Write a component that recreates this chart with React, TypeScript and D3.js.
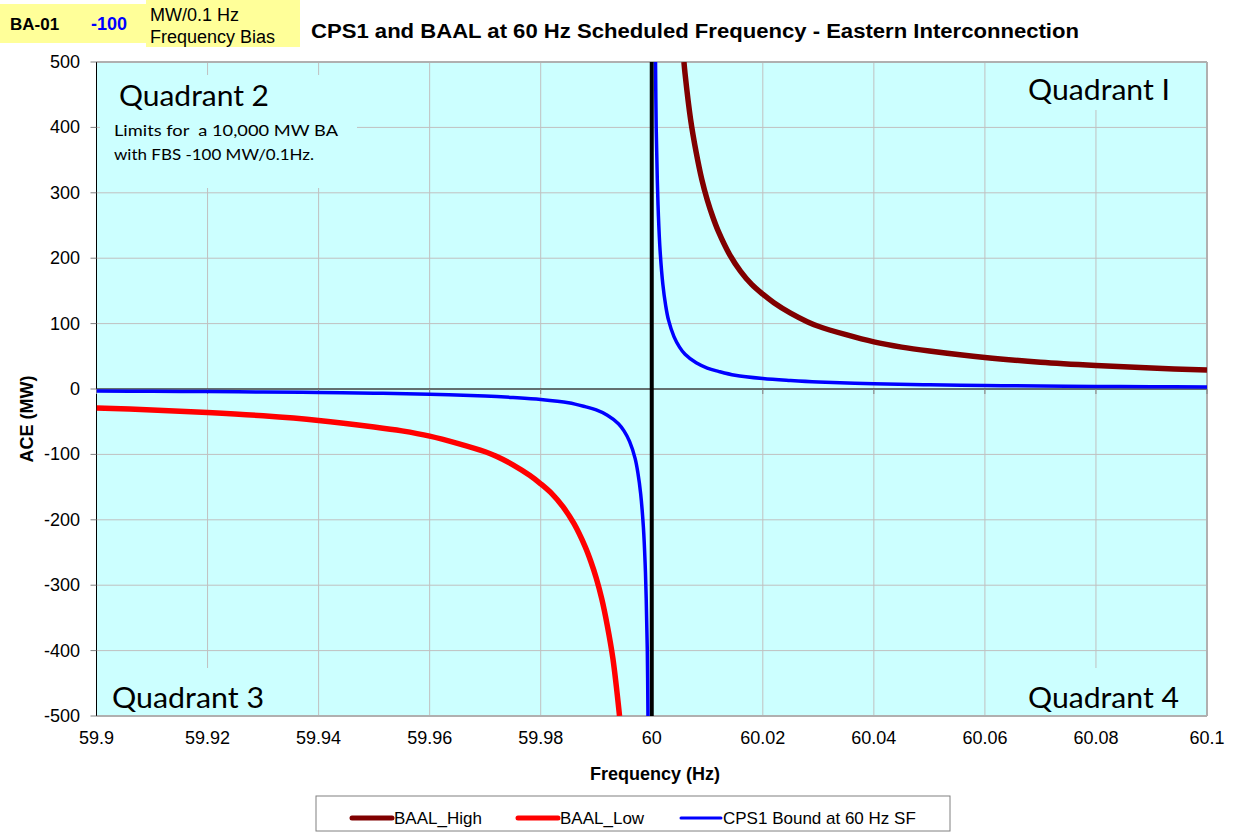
import React from 'react';
import * as d3 from 'd3';

// tick values
const xTicks = [59.9, 59.92, 59.94, 59.96, 59.98, 60, 60.02, 60.04, 60.06, 60.08, 60.1];
const yTicks = [500, 400, 300, 200, 100, 0, -100, -200, -300, -400, -500];

// BAAL_High
const highFreq = [60.0058, 60.006, 60.007, 60.008, 60.009, 60.01, 60.011, 60.012, 60.014, 60.016, 60.018, 60.02, 60.022, 60.025, 60.028, 60.03, 60.035, 60.04, 60.045, 60.05, 60.06, 60.07, 60.08, 60.09, 60.1];
const highAce = [500, 482, 412, 362, 321, 289, 263, 241, 206, 180, 160, 145, 132, 116, 103, 96, 83, 72, 64, 58, 48, 41, 36, 32, 29];

// BAAL_Low
const lowFreq = [59.9, 59.91, 59.92, 59.93, 59.94, 59.95, 59.955, 59.96, 59.965, 59.97, 59.972, 59.975, 59.978, 59.98, 59.982, 59.984, 59.986, 59.988, 59.989, 59.99, 59.991, 59.992, 59.993, 59.9942];
const lowAce = [-29, -32, -36, -41, -48, -58, -64, -72, -83, -96, -103, -116, -132, -145, -160, -180, -206, -241, -263, -289, -321, -362, -412, -500];

// CPS1 bound, above and below 60 Hz
const cpsHighFreq = [60.00068, 60.0008, 60.001, 60.0012, 60.0015, 60.002, 60.0025, 60.003, 60.004, 60.005, 60.006, 60.008, 60.01, 60.012, 60.015, 60.02, 60.025, 60.03, 60.04, 60.05, 60.06, 60.07, 60.08, 60.09, 60.1];
const cpsHighAce = [500, 400, 320, 265, 212, 160, 128, 106, 80, 64, 53, 40, 32, 27, 21, 16, 13, 10.7, 8, 6.4, 5.3, 4.6, 4, 3.6, 3.2];
const cpsLowFreq = [59.9, 59.91, 59.92, 59.93, 59.94, 59.95, 59.96, 59.97, 59.975, 59.98, 59.985, 59.988, 59.99, 59.992, 59.994, 59.995, 59.996, 59.997, 59.9975, 59.998, 59.9985, 59.9988, 59.999, 59.9992, 59.99932];
const cpsLowAce = [-3.2, -3.6, -4, -4.6, -5.3, -6.4, -8, -10.7, -13, -16, -21, -27, -32, -40, -53, -64, -80, -106, -128, -160, -212, -265, -320, -400, -500];

const legendItems = [
  { label: 'BAAL_High', color: '#800000', width: 5 },
  { label: 'BAAL_Low', color: '#ff0000', width: 5 },
  { label: 'CPS1 Bound at 60 Hz SF', color: '#0000ff', width: 3 },
];

const ARIAL = '"Liberation Sans", Arial, sans-serif';
const CALIBRI = 'Lato, "Open Sans", sans-serif';

export default function App() {
  const width = 1240;
  const height = 832;
  const left = 96.5, right = 1207, top = 62, bottom = 716;

  const x = d3.scaleLinear().domain([59.9, 60.1]).range([left, right]);
  const y = d3.scaleLinear().domain([-500, 500]).range([bottom, top]);

  const line = d3.line<[number, number]>()
    .x(d => x(d[0]))
    .y(d => y(d[1]))
    .curve(d3.curveCatmullRom.alpha(0.5));

  const zip = (a: number[], b: number[]) => a.map((v, i) => [v, b[i]] as [number, number]);

  const legendX = [352, 518, 681];

  return (
    <svg width={width} height={height} style={{ position: 'absolute', left: 0, top: 0, background: '#fff' }}>
      <defs>
        <clipPath id="plot">
          <rect x={left} y={top} width={right - left} height={bottom - top} />
        </clipPath>
      </defs>

      {/* header box */}
      <rect x={0} y={4} width={146} height={39} fill="#ffff99" />
      <rect x={146} y={0} width={154} height={47} fill="#ffff99" />
      <text x={10} y={30} fontFamily={ARIAL} fontSize={17} fontWeight="bold">BA-01</text>
      <text x={91} y={30} fontFamily={ARIAL} fontSize={18} fontWeight="bold" fill="#0000ff">-100</text>
      <text x={150} y={21} fontFamily={ARIAL} fontSize={18}>MW/0.1 Hz</text>
      <text x={150} y={43} fontFamily={ARIAL} fontSize={18}>Frequency Bias</text>
      <text x={311} y={38} fontFamily={ARIAL} fontSize={20} fontWeight="bold" textLength={768} lengthAdjust="spacingAndGlyphs">
        CPS1 and BAAL at 60 Hz Scheduled Frequency - Eastern Interconnection
      </text>

      {/* plot area */}
      <rect x={left} y={top} width={right - left} height={bottom - top} fill="#ccffff" />
      {yTicks.map(t => (
        <line key={'gy' + t} x1={left} x2={right} y1={y(t)} y2={y(t)} stroke="#c0c0c0" strokeWidth={1} />
      ))}
      {xTicks.map(t => (
        <line key={'gx' + t} x1={x(t)} x2={x(t)} y1={top} y2={bottom} stroke="#c0c0c0" strokeWidth={1} />
      ))}

      {/* text boxes covering the grid */}
      <rect x={100} y={75} width={257} height={113} fill="#ccffff" />
      <rect x={1015} y={top + 1} width={180} height={47} fill="#ccffff" />
      <rect x={100} y={668} width={175} height={47} fill="#ccffff" />
      <rect x={1015} y={668} width={180} height={47} fill="#ccffff" />

      {/* borders */}
      <line x1={left} x2={right} y1={top} y2={top} stroke="#b0b0b0" strokeWidth={2} />
      <line x1={right} x2={right} y1={top} y2={bottom} stroke="#b0b0b0" strokeWidth={2} />
      <line x1={left} x2={right} y1={bottom} y2={bottom} stroke="#b0b0b0" strokeWidth={2} />
      <line x1={left} x2={left} y1={top} y2={bottom} stroke="#000" strokeWidth={1} />
      <line x1={left} x2={right} y1={y(0)} y2={y(0)} stroke="#000" strokeWidth={1} />

      {/* ticks */}
      {yTicks.map(t => (
        <g key={'ty' + t}>
          <line x1={left - 6} x2={left} y1={y(t)} y2={y(t)} stroke="#808080" />
          <text x={80} y={y(t) + 6} textAnchor="end" fontFamily={ARIAL} fontSize={18}>{t}</text>
        </g>
      ))}
      {xTicks.map(t => (
        <g key={'tx' + t}>
          <line x1={x(t)} x2={x(t)} y1={y(0)} y2={y(0) + 5} stroke="#808080" />
          <text x={x(t)} y={744} textAnchor="middle" fontFamily={ARIAL} fontSize={18}>{t}</text>
        </g>
      ))}

      {/* axis titles */}
      <text x={655} y={780} textAnchor="middle" fontFamily={ARIAL} fontSize={18} fontWeight="bold">Frequency (Hz)</text>
      <text transform="translate(33,419) rotate(-90)" textAnchor="middle" fontFamily={ARIAL} fontSize={18} fontWeight="bold">ACE (MW)</text>

      {/* 60 Hz line */}
      <line x1={x(60)} x2={x(60)} y1={y(500)} y2={y(-500)} stroke="#000" strokeWidth={4} />

      {/* series */}
      <g clipPath="url(#plot)">
        <path d={line(zip(highFreq, highAce)) || ''} fill="none" stroke="#800000" strokeWidth={5.5} />
        <path d={line(zip(lowFreq, lowAce)) || ''} fill="none" stroke="#ff0000" strokeWidth={5.5} />
        <path d={line(zip(cpsHighFreq, cpsHighAce)) || ''} fill="none" stroke="#0000ff" strokeWidth={3.5} />
        <path d={line(zip(cpsLowFreq, cpsLowAce)) || ''} fill="none" stroke="#0000ff" strokeWidth={3.5} />
      </g>

      {/* quadrant labels */}
      <text x={119} y={106} fontFamily={CALIBRI} fontSize={28} textLength={150} lengthAdjust="spacingAndGlyphs">Quadrant 2</text>
      <text x={114} y={136} fontFamily={CALIBRI} fontSize={16} textLength={224} lengthAdjust="spacingAndGlyphs" style={{ whiteSpace: 'pre' }}>Limits for  a 10,000 MW BA</text>
      <text x={114} y={160} fontFamily={CALIBRI} fontSize={16} textLength={200} lengthAdjust="spacingAndGlyphs">with FBS -100 MW/0.1Hz.</text>
      <text x={1028} y={100} fontFamily={CALIBRI} fontSize={28} textLength={142} lengthAdjust="spacingAndGlyphs">Quadrant I</text>
      <text x={112} y={708} fontFamily={CALIBRI} fontSize={28} textLength={152} lengthAdjust="spacingAndGlyphs">Quadrant 3</text>
      <text x={1028} y={708} fontFamily={CALIBRI} fontSize={28} textLength={151} lengthAdjust="spacingAndGlyphs">Quadrant 4</text>

      {/* legend */}
      <rect x={316} y={796} width={634} height={35} fill="#fff" stroke="#808080" strokeWidth={1} />
      {legendItems.map((d, i) => (
        <g key={d.label}>
          <line x1={legendX[i]} x2={legendX[i] + 40} y1={818} y2={818} stroke={d.color} strokeWidth={d.width} strokeLinecap="round" />
          <text x={legendX[i] + 42} y={824} fontFamily={ARIAL} fontSize={17}>{d.label}</text>
        </g>
      ))}
    </svg>
  );
}
